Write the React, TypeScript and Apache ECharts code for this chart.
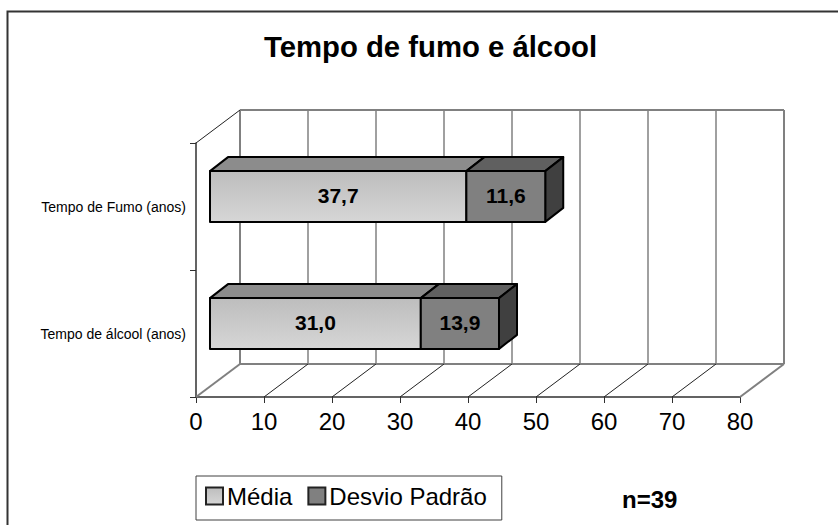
import React, { useEffect, useRef } from "react";
import * as echarts from "echarts";

const categories = ["Tempo de álcool (anos)", "Tempo de Fumo (anos)"];
const mediaValues = [31.0, 37.7];
// Drawn lengths; the printed labels below differ for the lower bar.
const desvioValues = [11.5, 11.6];
const mediaLabels = ["31,0", "37,7"];
const desvioLabels = ["13,9", "11,6"];
const axisTicks = [0, 10, 20, 30, 40, 50, 60, 70, 80];
const titleText = "Tempo de fumo e álcool";
const noteText = "n=39";
const FONT = "'Liberation Sans', Arial, sans-serif";

const wallDx = 44;
const wallDy = -33;
const barDx = 18;
const barDy = -14;
const barShiftX = 14;
const barShiftY = -10;
const barRatio = 0.4;

const lightFront = () =>
  new echarts.graphic.LinearGradient(0, 0, 0, 1, [
    { offset: 0, color: "#bdbdbd" },
    { offset: 1, color: "#d6d6d6" },
  ]);

function wallItem(params: any, api: any) {
  const v = api.value(0);
  const next = v + 10;
  const band = api.size([0, 1])[1];
  const bottom = api.coord([v, 0])[1] + band / 2;
  const top = api.coord([v, 1])[1] - band / 2;
  const x = api.coord([v, 0])[0];
  const x2 = api.coord([next, 0])[0];
  const gray = { stroke: "#808080", lineWidth: 2 };
  const thin = { stroke: "#808080", lineWidth: 1.5 };
  const black = { stroke: "#222222", lineWidth: 1 };
  const edge = v === axisTicks[0] || v === axisTicks[axisTicks.length - 1];
  const children: any[] = [
    {
      type: "line",
      shape: { x1: x + wallDx, y1: top + wallDy, x2: x + wallDx, y2: bottom + wallDy },
      style: edge ? gray : thin,
    },
    {
      type: "line",
      shape: { x1: x, y1: bottom, x2: x + wallDx, y2: bottom + wallDy },
      style: edge ? gray : black,
    },
  ];
  if (v === axisTicks[0]) {
    children.push({
      type: "line",
      shape: { x1: x, y1: top, x2: x + wallDx, y2: top + wallDy },
      style: black,
    });
  }
  if (v !== axisTicks[axisTicks.length - 1]) {
    children.push(
      { type: "line", shape: { x1: x + wallDx, y1: top + wallDy, x2: x2 + wallDx, y2: top + wallDy }, style: gray },
      { type: "line", shape: { x1: x + wallDx, y1: bottom + wallDy, x2: x2 + wallDx, y2: bottom + wallDy }, style: gray }
    );
  }
  return { type: "group", silent: true, children };
}

function barRenderer(front: any, topColor: string, showSide: boolean, labels: string[]) {
  return (params: any, api: any) => {
    const start = api.value(0);
    const end = api.value(1);
    const idx = api.value(2);
    const c0 = api.coord([start, idx]);
    const c1 = api.coord([end, idx]);
    const h = api.size([0, 1])[1] * barRatio;
    const x0 = c0[0] + barShiftX;
    const x1 = c1[0] + barShiftX;
    const y0 = c0[1] + barShiftY - h / 2;
    const y1 = y0 + h;
    const edge = { stroke: "#000000", lineWidth: 2, lineJoin: "round" };
    const children: any[] = [
      {
        type: "polygon",
        shape: { points: [[x0, y0], [x0 + barDx, y0 + barDy], [x1 + barDx, y0 + barDy], [x1, y0]] },
        style: { fill: topColor, ...edge },
      },
    ];
    if (showSide) {
      children.push({
        type: "polygon",
        shape: { points: [[x1, y0], [x1 + barDx, y0 + barDy], [x1 + barDx, y1 + barDy], [x1, y1]] },
        style: { fill: "#404040", ...edge },
      });
    }
    children.push(
      {
        type: "rect",
        shape: { x: x0, y: y0, width: x1 - x0, height: h },
        style: { fill: front, ...edge },
      },
      {
        type: "text",
        style: {
          x: (x0 + x1) / 2,
          y: (y0 + y1) / 2 - 1.5,
          text: labels[idx],
          fill: "#000000",
          font: `bold 21px ${FONT}`,
          align: "center",
          verticalAlign: "middle",
        },
      }
    );
    return { type: "group", children };
  };
}

export default function App() {
  const ref = useRef<HTMLDivElement>(null);
  useEffect(() => {
    const chart = echarts.init(ref.current!, undefined, { renderer: "svg" });
    const fill = lightFront();
    chart.setOption({
      animation: false,
      backgroundColor: "#ffffff",
      title: {
        text: titleText,
        left: 425.5,
        top: 27,
        textAlign: "center",
        textStyle: { fontFamily: FONT, fontSize: 29.3, fontWeight: "bold", color: "#000000" },
      },
      grid: { left: 196, top: 143, width: 544, height: 254 },
      xAxis: {
        type: "value",
        min: 0,
        max: 80,
        interval: 10,
        axisLine: { show: true, lineStyle: { color: "#303030", width: 1.5 } },
        axisTick: { show: true, length: 6, lineStyle: { color: "#303030" } },
        axisLabel: { color: "#000000", fontFamily: FONT, fontSize: 24, margin: 12, formatter: (v: number) => String(v) },
        splitLine: { show: false },
      },
      yAxis: {
        type: "category",
        data: categories,
        axisLine: { show: true, lineStyle: { color: "#303030", width: 1.5 } },
        axisTick: { show: true, length: 6, lineStyle: { color: "#303030" } },
        axisLabel: { color: "#000000", fontFamily: FONT, fontSize: 14, margin: 10 },
      },
      legend: {
        show: true,
        left: 196,
        top: 476,
        padding: [8, 15, 12, 9],
        itemGap: 15,
        itemWidth: 17,
        itemHeight: 17,
        backgroundColor: "#ffffff",
        borderColor: "#404040",
        borderWidth: 1,
        selectedMode: false,
        icon: "rect",
        data: ["Média", "Desvio Padrão"],
        textStyle: { fontFamily: FONT, fontSize: 24, color: "#000000", padding: [0, 0, 5, -1] },
      },
      graphic: [
        {
          type: "polyline",
          silent: true,
          shape: { points: [[7.5, 525], [7.5, 11.5], [838, 11.5]] },
          style: { stroke: "#333333", lineWidth: 2, fill: "none" },
        },
        {
          type: "text",
          x: 622,
          y: 487,
          style: { text: noteText, font: `bold 24px ${FONT}`, fill: "#000000" },
        },
      ],
      series: [
        {
          type: "custom",
          name: "walls",
          clip: false,
          silent: true,
          z: 1,
          renderItem: wallItem,
          data: axisTicks.map((t) => [t]),
        },
        {
          type: "custom",
          name: "Média",
          clip: false,
          z: 3,
          itemStyle: { color: fill, borderColor: "#222222", borderWidth: 2 },
          renderItem: barRenderer(fill, "#8c8c8c", false, mediaLabels),
          data: mediaValues.map((v, i) => [0, v, i]),
        },
        {
          type: "custom",
          name: "Desvio Padrão",
          clip: false,
          z: 4,
          itemStyle: { color: "#808080", borderColor: "#222222", borderWidth: 2 },
          renderItem: barRenderer("#808080", "#606060", true, desvioLabels),
          data: desvioValues.map((v, i) => [mediaValues[i], mediaValues[i] + v, i]),
        },
      ],
    });
    return () => chart.dispose();
  }, []);
  return <div ref={ref} style={{ position: "fixed", left: 0, top: 0, width: 838, height: 525 }} />;
}
